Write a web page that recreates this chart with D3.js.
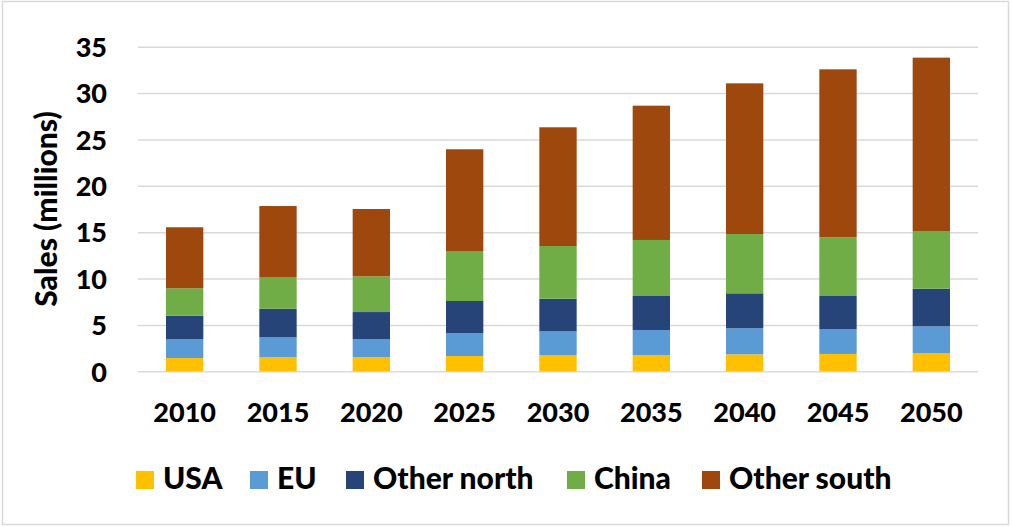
<!DOCTYPE html>
<html>
<head>
<meta charset="utf-8">
<script src="https://cdn.jsdelivr.net/npm/d3@7"></script>
<style>
  html, body { margin: 0; padding: 0; background: #fff; }
  svg { display: block; }
  text { font-family: Lato, "Open Sans", sans-serif; font-weight: 900; fill: #000; }
</style>
</head>
<body>
<svg id="chart" width="1012" height="527"></svg>
<script>
// Vehicle sales by region (millions)
const years = ["2010", "2015", "2020", "2025", "2030", "2035", "2040", "2045", "2050"];
const regions = ["USA", "EU", "Other north", "China", "Other south"];
const usa        = [1.43, 1.54, 1.54, 1.65, 1.72, 1.76, 1.83, 1.87, 1.97];
const eu         = [2.05, 2.12, 1.94, 2.48, 2.59, 2.69, 2.81, 2.69, 2.88];
const otherNorth = [2.52, 3.09, 2.91, 3.45, 3.52, 3.67, 3.77, 3.56, 4.06];
const china      = [2.95, 3.42, 3.85, 5.39, 5.68, 6.04, 6.39, 6.33, 6.22];
const otherSouth = [6.58, 7.65, 7.26, 10.97, 12.80, 14.48, 16.25, 18.11, 18.69];
const yTicks = [0, 5, 10, 15, 20, 25, 30, 35];
const colors = ["#ffc000", "#5b9bd5", "#264478", "#70ad47", "#9e480e"];

const seriesValues = [usa, eu, otherNorth, china, otherSouth];
const table = years.map((yr, i) => {
  const row = { year: yr };
  regions.forEach((r, k) => { row[r] = seriesValues[k][i]; });
  return row;
});

const svg = d3.select("#chart");
const W = 1012, H = 527;

// outer frame
svg.append("rect")
  .attr("x", 2.5).attr("y", 1.5).attr("width", W - 6).attr("height", H - 4)
  .attr("fill", "#fff").attr("stroke", "#d9d9d9").attr("stroke-width", 1.5);

const plotLeft = 138, plotRight = 978, plotTop = 46.7, plotBottom = 371.3;

const x = d3.scaleBand().domain(years).range([plotLeft, plotRight]).paddingInner(0.6).paddingOuter(0.3);
const y = d3.scaleLinear().domain([0, 35]).range([plotBottom, plotTop]);
const color = d3.scaleOrdinal().domain(regions).range(colors);

// gridlines
const grid = svg.append("g")
  .attr("transform", `translate(${plotLeft},0)`)
  .call(d3.axisLeft(y).tickValues(yTicks).tickSize(-(plotRight - plotLeft)).tickFormat(""));
grid.select(".domain").remove();
grid.selectAll("line").attr("stroke", "#d9d9d9").attr("stroke-width", 1.5);

// stacked bars
const stack = d3.stack().keys(regions)(table);
svg.append("g").selectAll("g")
  .data(stack).join("g")
  .attr("fill", d => color(d.key))
  .selectAll("rect")
  .data(d => d).join("rect")
  .attr("x", d => x(d.data.year))
  .attr("width", x.bandwidth())
  .attr("y", d => y(d[1]))
  .attr("height", d => y(d[0]) - y(d[1]));

const labelStyle = sel => sel
  .style("font-family", "Lato, sans-serif").style("font-weight", 900)
  .attr("fill", "#000");

// y axis labels
const yAxis = svg.append("g")
  .attr("transform", `translate(107,0)`)
  .call(d3.axisLeft(y).tickValues(yTicks).tickSize(0).tickPadding(0));
yAxis.select(".domain").remove();
yAxis.selectAll("text").call(labelStyle)
  .style("font-size", "27px").attr("dy", "0.36em");

// x axis labels
const xAxis = svg.append("g")
  .attr("transform", `translate(0,${plotBottom})`)
  .call(d3.axisBottom(x).tickSize(0).tickPadding(0));
xAxis.select(".domain").remove();
xAxis.selectAll("text").call(labelStyle)
  .style("font-size", "27px").attr("dy", null).attr("y", 51);

// y axis title
svg.append("text")
  .attr("transform", "translate(57,209) rotate(-90)")
  .attr("text-anchor", "middle")
  .style("font-size", "30px")
  .text("Sales (millions)");

// legend
const legendX = [136, 250, 346, 567, 702];
const legend = svg.append("g").selectAll("g")
  .data(regions).join("g")
  .attr("transform", (d, i) => `translate(${legendX[i]},471)`);
legend.append("rect")
  .attr("width", 18).attr("height", 18)
  .attr("fill", d => color(d));
legend.append("text")
  .attr("x", 27).attr("y", 18)
  .style("font-size", "30px")
  .text(d => d);
</script>
</body>
</html>
